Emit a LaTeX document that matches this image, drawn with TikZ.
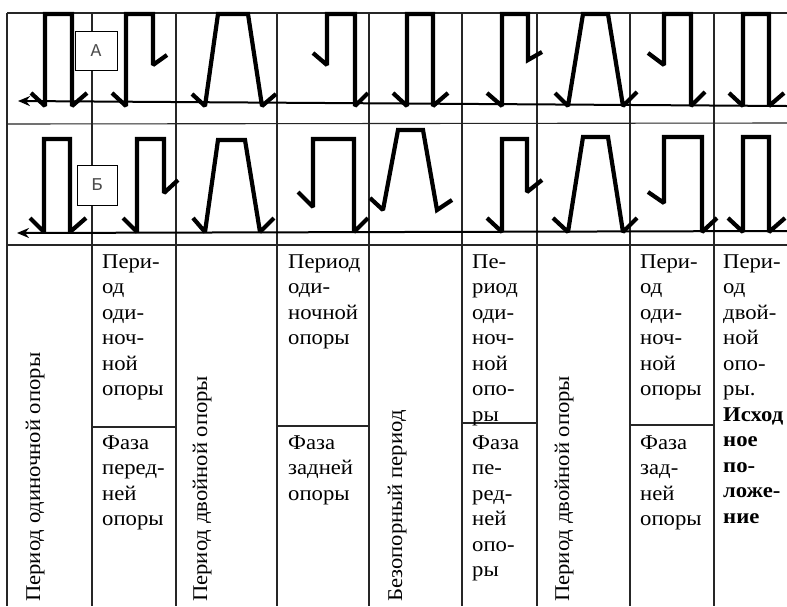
\documentclass[tikz,border=0pt]{standalone}
\usepackage{fontspec}
\setmainfont{Liberation Serif}[FakeStretch=1.08]
\newfontfamily\boxfont{Liberation Mono}
\usetikzlibrary{arrows.meta}
\newcommand{\txt}{\fontsize{21}{25.5}\selectfont}
\begin{document}
\begin{tikzpicture}[x=1pt,y=-1pt,
  grid/.style={line width=1.1pt, black!85},
  legs/.style={line width=4.2pt, line join=miter, miter limit=2},
  groundline/.style={line width=2pt, -{Stealth[length=12pt,width=10pt]}},
  lbl/.style={anchor=north west, inner sep=0pt, align=left, font=\txt},
  vlbl/.style={rotate=90, anchor=base west, inner sep=0pt, font=\txt},
  tag/.style={draw, fill=white, line width=1pt, minimum width=42pt, minimum height=39pt, inner sep=0pt, font=\boxfont\fontsize{18}{18}\selectfont, text=black!70}]
\useasboundingbox (0,0) rectangle (787,606);
\fill[white] (0,0) rectangle (787,606);
% table grid
\draw[grid] (7,13) -- (787,13);
\draw[grid] (7,13) -- (7,606);
\foreach \x in {92,176,277,369,462,537,630,714} \draw[grid] (\x,13) -- (\x,606);
\draw[grid] (7,124) -- (787,123);
\draw[grid] (7,245) -- (787,245);
\draw[grid] (92,427) -- (176,427);
\draw[grid] (277,426) -- (369,426);
\draw[grid] (462,423) -- (537,423);
\draw[grid] (630,425) -- (714,425);
% ground lines
\draw[groundline] (787,106) -- (18,101);
\draw[groundline] (787,231) -- (17,233);
% row 1 figures
\draw[legs] (31,93) -- (45,106) -- (45,14) -- (72,14) -- (72,106) -- (87,93);
\draw[legs] (112,93) -- (126,106) -- (126,14) -- (153,14) -- (153,65) -- (167,55);
\draw[legs] (192,94) -- (205,106) -- (218,14) -- (248,14) -- (262,106) -- (276,94);
\draw[legs] (313,53) -- (327,65) -- (327,14) -- (355,14) -- (355,106) -- (368,93);
\draw[legs] (393,93) -- (407,106) -- (407,14) -- (433,14) -- (433,106) -- (448,93);
\draw[legs] (487,93) -- (502,106) -- (502,14) -- (528,14) -- (528,60) -- (542,52);
\draw[legs] (555,93) -- (568,106) -- (583,14) -- (608,14) -- (623,106) -- (637,92);
\draw[legs] (648,53) -- (664,65) -- (664,14) -- (691,14) -- (691,106) -- (705,92);
\draw[legs] (729,93) -- (743,106) -- (743,14) -- (769,14) -- (769,106) -- (784,93);
% row 2 figures
\draw[legs] (30,218) -- (44,232) -- (44,139) -- (70,139) -- (70,232) -- (86,218);
\draw[legs] (123,218) -- (137,232) -- (137,139) -- (164,139) -- (164,193) -- (178,180);
\draw[legs] (193,218) -- (205,232) -- (218,140) -- (245,140) -- (260,232) -- (274,218);
\draw[legs] (298,192) -- (313,207) -- (313,139) -- (354,139) -- (354,232) -- (368,218);
\draw[legs] (370,198) -- (383,210) -- (398,130) -- (423,130) -- (437,210) -- (452,200);
\draw[legs] (487,218) -- (502,232) -- (502,139) -- (527,139) -- (527,192) -- (542,180);
\draw[legs] (553,218) -- (568,232) -- (583,137) -- (608,137) -- (623,232) -- (637,218);
\draw[legs] (648,192) -- (664,203) -- (664,137) -- (702,137) -- (702,232) -- (717,218);
\draw[legs] (728,218) -- (743,232) -- (743,137) -- (769,137) -- (769,232) -- (785,218);
% tags
\node[tag] (tagA) at (96,51) {A};
\node[tag, minimum width=40pt, minimum height=40pt] (tagB) at (97,185) {Б};
% rotated labels
\node[vlbl] (v1) at (40,602) {Период одиночной опоры};
\node[vlbl] (v3) at (207,602) {Период двойной опоры};
\node[vlbl] (v5) at (402,602) {Безопорный период};
\node[vlbl] (v7) at (569,602) {Период двойной опоры};
% horizontal labels
\node[lbl] (c2a) at (102,250) {\strut Пери-\\од\\оди-\\ноч-\\ной\\опоры};
\node[lbl] (c2b) at (102,431) {\strut Фаза\\перед-\\ней\\опоры};
\node[lbl] (c4a) at (288,250) {\strut Период\\оди-\\ночной\\опоры};
\node[lbl] (c4b) at (288,431) {\strut Фаза\\задней\\опоры};
\node[lbl] (c6a) at (472,250) {\strut Пе-\\риод\\оди-\\ноч-\\ной\\опо-\\ры};
\node[lbl] (c6b) at (472,431) {\strut Фаза\\пе-\\ред-\\ней\\опо-\\ры};
\node[lbl] (c8a) at (640,250) {\strut Пери-\\од\\оди-\\ноч-\\ной\\опоры};
\node[lbl] (c8b) at (640,431) {\strut Фаза\\зад-\\ней\\опоры};
\node[lbl] (c9) at (723,250) {\strut Пери-\\од\\двой-\\ной\\опо-\\ры.\\\textbf{Исход}\\\textbf{ное}\\\textbf{по-}\\\textbf{ложе-}\\\textbf{ние}};
\end{tikzpicture}
\end{document}
